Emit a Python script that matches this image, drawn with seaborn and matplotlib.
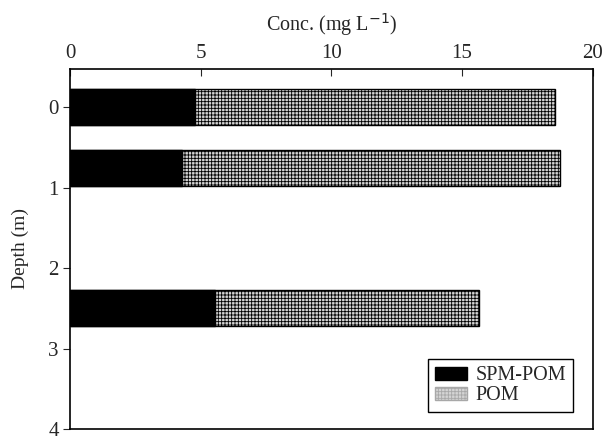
import pandas as pd
import matplotlib.pyplot as plt
import numpy as np
import seaborn as sns
from matplotlib.patches import Patch

# values
depth = [0.0, 0.75, 2.5]
spm_pom = [4.8, 4.3, 5.55]
pom = [13.75, 14.45, 10.1]


def showDepthProfile():
    df = pd.DataFrame({'Depth': depth, 'SPM-POM': spm_pom, 'POM': pom})
    df['Total'] = df['SPM-POM'] + df['POM']

    sns.set_style('ticks')
    plt.rcParams['font.family'] = ['Liberation Serif', 'DejaVu Serif']
    plt.rcParams['hatch.color'] = '#a8a8a8'
    plt.rcParams['hatch.linewidth'] = 0.6

    fig = plt.figure(figsize=(6.03, 4.44), dpi=100)
    ax = fig.add_axes([0.116, 0.034, 0.867, 0.811])

    # total bar first (grey), then the SPM-POM part on top of it
    sns.barplot(data=df, x='Total', y='Depth', orient='y', native_scale=True,
                width=0.6, color='#d4d4d4', edgecolor='black', linewidth=1.0,
                hatch='+++++', ax=ax)
    sns.barplot(data=df, x='SPM-POM', y='Depth', orient='y', native_scale=True,
                width=0.6, color='black', edgecolor='black', linewidth=1.0,
                ax=ax)

    ax.set_xlim(0, 20)
    ax.set_ylim(4, -0.48)
    ax.set_xticks([0, 5, 10, 15, 20])
    ax.set_yticks([0, 1, 2, 3, 4])
    ax.xaxis.tick_top()
    ax.xaxis.set_label_position('top')
    ax.tick_params(axis='x', direction='in', length=5, labelsize=15, pad=4)
    ax.tick_params(axis='y', direction='out', length=5, labelsize=15, pad=3)
    for s in ax.spines.values():
        s.set_visible(True)
        s.set_linewidth(1.2)
        s.set_color('black')

    ax.set_xlabel('Conc. (mg L$^{-1}$)', fontsize=14.5, labelpad=10)
    ax.set_ylabel('Depth (m)', fontsize=14, labelpad=14)

    handles = [Patch(facecolor='black', edgecolor='black', label='SPM-POM'),
               Patch(facecolor='#d4d4d4', edgecolor='#a8a8a8', hatch='+++++',
                     label='POM')]
    leg = ax.legend(handles=handles, loc='lower right', fancybox=False,
                    framealpha=1, edgecolor='black', fontsize=14.5,
                    handlelength=1.6, handleheight=0.6, handletextpad=0.4,
                    labelspacing=0.05, borderpad=0.35, borderaxespad=0,
                    bbox_to_anchor=(0.962, 0.046))
    leg.get_frame().set_linewidth(1.0)

    plt.savefig('out.png', dpi=100)

showDepthProfile()
